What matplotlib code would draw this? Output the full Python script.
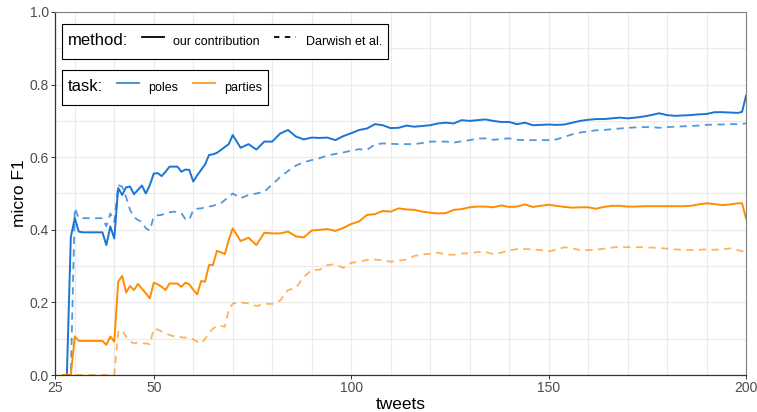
import matplotlib
matplotlib.use('Agg')
import matplotlib.pyplot as plt
from matplotlib.lines import Line2D
import numpy as np

plt.rcParams['font.family'] = ['Liberation Sans', 'DejaVu Sans']

# tweets: 1-step early on, 2-step afterwards
tweets = list(range(27, 71)) + list(range(72, 199, 2)) + [199, 200]

poles_ours = [
    0.0, 0.0, 0.38, 0.432, 0.395, 0.393, 0.393, 0.393, 0.393, 0.393, 0.393,
    0.358, 0.409, 0.376, 0.515, 0.496, 0.517, 0.519, 0.498, 0.51, 0.522,
    0.50, 0.523, 0.555, 0.556, 0.548, 0.56, 0.574, 0.574, 0.574, 0.56,
    0.566, 0.565, 0.533, 0.55, 0.565, 0.58, 0.606, 0.608, 0.612, 0.62,
    0.628, 0.636, 0.661,
    0.626, 0.636, 0.621, 0.643, 0.643, 0.665, 0.675, 0.657, 0.649, 0.654,
    0.653, 0.654, 0.647, 0.658, 0.666, 0.675, 0.679, 0.691, 0.688, 0.680,
    0.681, 0.687, 0.684, 0.686, 0.688, 0.693, 0.695, 0.693, 0.702, 0.700,
    0.702, 0.704, 0.700, 0.697, 0.697, 0.691, 0.695, 0.688, 0.689, 0.690,
    0.689, 0.690, 0.695, 0.700, 0.703, 0.705, 0.705, 0.707, 0.709, 0.707,
    0.709, 0.712, 0.716, 0.721, 0.716, 0.714, 0.715, 0.716, 0.718, 0.719,
    0.724, 0.724, 0.723, 0.722,
    0.725, 0.769]

poles_darwish = [
    0.0, 0.0, 0.0, 0.46, 0.432, 0.432, 0.432, 0.432, 0.432, 0.432, 0.432,
    0.41, 0.445, 0.422, 0.523, 0.519, 0.49, 0.455, 0.435, 0.427, 0.422,
    0.404, 0.398, 0.436, 0.44, 0.441, 0.445, 0.448, 0.45, 0.449, 0.445,
    0.43, 0.427, 0.455, 0.458, 0.459, 0.462, 0.464, 0.466, 0.47, 0.473,
    0.482, 0.491, 0.50,
    0.487, 0.496, 0.50, 0.505, 0.525, 0.545, 0.562, 0.577, 0.586, 0.592,
    0.597, 0.605, 0.609, 0.613, 0.618, 0.622, 0.62, 0.635, 0.638, 0.637,
    0.636, 0.636, 0.636, 0.639, 0.643, 0.643, 0.643, 0.640, 0.644, 0.647,
    0.651, 0.652, 0.648, 0.65, 0.652, 0.648, 0.647, 0.647, 0.647, 0.647,
    0.649, 0.656, 0.663, 0.668, 0.671, 0.674, 0.675, 0.677, 0.679, 0.681,
    0.682, 0.683, 0.683, 0.681, 0.683, 0.684, 0.685, 0.686, 0.687, 0.689,
    0.690, 0.690, 0.691, 0.691,
    0.692, 0.693]

parties_ours = [
    0.0, 0.0, 0.0, 0.106, 0.094, 0.094, 0.094, 0.094, 0.094, 0.094, 0.094,
    0.083, 0.106, 0.092, 0.257, 0.273, 0.227, 0.245, 0.234, 0.251, 0.238,
    0.225, 0.211, 0.254, 0.25, 0.243, 0.234, 0.252, 0.252, 0.252, 0.243,
    0.254, 0.25, 0.235, 0.222, 0.259, 0.257, 0.303, 0.303, 0.342, 0.338,
    0.333, 0.372, 0.404,
    0.369, 0.378, 0.358, 0.392, 0.39, 0.39, 0.395, 0.382, 0.379, 0.398,
    0.40, 0.402, 0.397, 0.405, 0.416, 0.423, 0.441, 0.443, 0.452, 0.45,
    0.459, 0.456, 0.455, 0.45, 0.447, 0.445, 0.446, 0.455, 0.457, 0.462,
    0.464, 0.464, 0.462, 0.467, 0.463, 0.464, 0.470, 0.463, 0.466, 0.469,
    0.466, 0.463, 0.461, 0.462, 0.462, 0.458, 0.463, 0.466, 0.466, 0.464,
    0.464, 0.465, 0.465, 0.465, 0.465, 0.465, 0.465, 0.466, 0.470, 0.473,
    0.471, 0.468, 0.470, 0.473,
    0.473, 0.431]

parties_darwish = [
    0.0, 0.0, 0.0, 0.0, 0.0, 0.0, 0.0, 0.0, 0.0, 0.0, 0.0,
    0.0, 0.0, 0.0, 0.119, 0.124, 0.105, 0.093, 0.087, 0.09, 0.087,
    0.087, 0.085, 0.128, 0.125, 0.12, 0.115, 0.11, 0.107, 0.105, 0.104,
    0.103, 0.103, 0.098, 0.092, 0.087, 0.10, 0.115, 0.128, 0.135, 0.135,
    0.133, 0.18, 0.197,
    0.20, 0.197, 0.19, 0.196, 0.196, 0.205, 0.234, 0.24, 0.27, 0.289,
    0.29, 0.303, 0.305, 0.295, 0.309, 0.312, 0.317, 0.318, 0.316, 0.312,
    0.315, 0.318, 0.328, 0.332, 0.334, 0.337, 0.332, 0.331, 0.335, 0.335,
    0.339, 0.339, 0.333, 0.337, 0.343, 0.347, 0.347, 0.346, 0.344, 0.341,
    0.345, 0.352, 0.349, 0.344, 0.344, 0.345, 0.348, 0.351, 0.353, 0.352,
    0.352, 0.352, 0.351, 0.350, 0.348, 0.346, 0.345, 0.344, 0.345, 0.346,
    0.345, 0.346, 0.349, 0.344,
    0.341, 0.337]

BLUE = '#1a75d2'
ORANGE = '#ff8c00'


def title_left(leg):
    # put the legend title in front of the entries, ggplot style
    box = leg.get_children()[0]
    title_box, handle_box = box.get_children()
    box._children = [handle_box]
    handle_box._children.insert(0, title_box)


fig = plt.figure(figsize=(7.57, 4.12), dpi=100)
ax = fig.add_axes([0.0727, 0.0898, 0.9128, 0.8811])

ax.plot(tweets, poles_darwish, color=BLUE, alpha=0.75, lw=1.3, dashes=(4, 3))
ax.plot(tweets, parties_darwish, color=ORANGE, alpha=0.65, lw=1.3, dashes=(4, 3))
ax.plot(tweets, poles_ours, color=BLUE, lw=1.4)
ax.plot(tweets, parties_ours, color=ORANGE, lw=1.4)

ax.set_xlim(25, 200)
ax.set_ylim(0, 1)
ax.set_xticks([25, 50, 100, 150, 200])
ax.set_xticks([t for t in range(30, 200, 10) if t not in (50, 100, 150)], minor=True)
ax.set_yticks([0, 0.2, 0.4, 0.6, 0.8, 1.0])
ax.set_yticks([0.1, 0.3, 0.5, 0.7, 0.9], minor=True)
ax.set_yticklabels(['0.0', '0.2', '0.4', '0.6', '0.8', '1.0'])
ax.grid(True, which='both', color='#ebebeb', lw=0.9)
ax.set_axisbelow(True)

ax.tick_params(which='major', length=3, width=0.7, color='#333333',
               labelsize=10, labelcolor='#4d4d4d', pad=1.5)
ax.tick_params(which='minor', length=0)
for side in ['left', 'bottom']:
    ax.spines[side].set_color('#333333')
    ax.spines[side].set_linewidth(0.9)
for side in ['top', 'right']:
    ax.spines[side].set_color('#7f7f7f')
    ax.spines[side].set_linewidth(0.8)

ax.set_xlabel('tweets', fontsize=12.5, labelpad=1)
ax.set_ylabel('micro F1', fontsize=12.5, labelpad=2)

leg_style = dict(ncol=2, loc='upper left', borderaxespad=0, fontsize=9,
                 title_fontsize=12, fancybox=False, edgecolor='black',
                 framealpha=1, handlelength=1.75, handleheight=2.5,
                 handletextpad=0.75, columnspacing=1.15, borderpad=0.45)

method_handles = [Line2D([], [], color='black', lw=1.3),
                  Line2D([], [], color='black', lw=1.3, dashes=(3, 3))]
leg1 = ax.legend(method_handles, ['our contribution', 'Darwish et al.'],
                 title='method:', bbox_to_anchor=(0.01, 0.967), **leg_style)
leg1.get_frame().set_linewidth(0.8)
title_left(leg1)
ax.add_artist(leg1)

task_handles = [Line2D([], [], color=BLUE, lw=1.3, alpha=0.85),
                Line2D([], [], color=ORANGE, lw=1.3, alpha=0.85)]
leg2 = ax.legend(task_handles, ['poles', 'parties'],
                 title='task:', bbox_to_anchor=(0.01, 0.840), **leg_style)
leg2.get_frame().set_linewidth(0.8)
title_left(leg2)

plt.savefig('out.png', dpi=100)
